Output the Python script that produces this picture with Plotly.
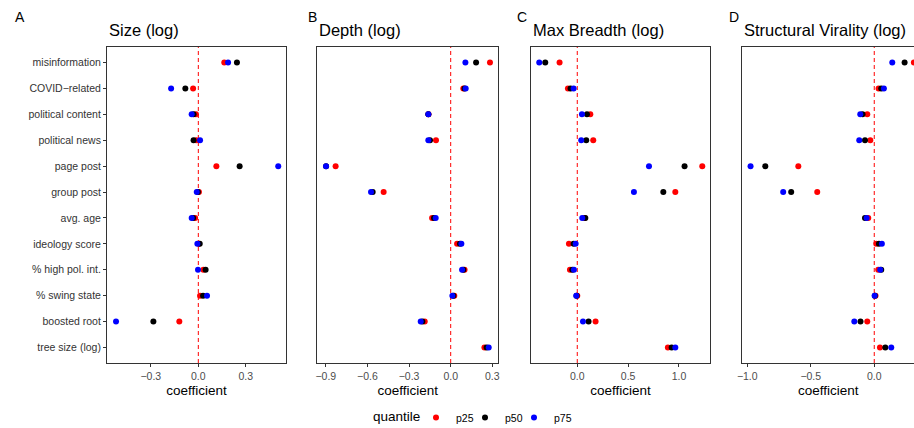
import plotly.graph_objects as go

categories = ["misinformation", "COVID\u2212related", "political content", "political news",
              "page post", "group post", "avg. age", "ideology score",
              "% high pol. int.", "% swing state", "boosted root", "tree size (log)"]

# Size (log)
size_p25 = [0.164, -0.033, -0.015, -0.013, 0.114, 0.004, -0.020, 0.003, 0.032, 0.011, -0.120, None]
size_p50 = [0.244, -0.082, -0.030, -0.030, 0.261, -0.003, -0.033, 0.009, 0.046, 0.030, -0.284, None]
size_p75 = [0.188, -0.172, -0.042, 0.011, 0.505, -0.010, -0.042, -0.006, -0.002, 0.055, -0.520, None]

# Depth (log)
depth_p25 = [0.283, 0.091, -0.160, -0.106, -0.829, -0.483, -0.134, 0.046, 0.100, 0.026, -0.187, 0.243]
depth_p50 = [0.183, 0.100, -0.161, -0.149, -0.898, -0.562, -0.120, 0.067, 0.091, 0.019, -0.204, 0.259]
depth_p75 = [0.106, 0.108, -0.161, -0.161, -0.898, -0.574, -0.108, 0.077, 0.082, 0.012, -0.216, 0.274]

# Max Breadth (log)
breadth_p25 = [-0.174, -0.092, 0.128, 0.157, 1.229, 0.964, 0.072, -0.082, -0.072, 0.000, 0.180, 0.891]
breadth_p50 = [-0.315, -0.066, 0.095, 0.088, 1.055, 0.846, 0.079, -0.036, -0.049, -0.007, 0.111, 0.928]
breadth_p75 = [-0.374, -0.036, 0.046, 0.039, 0.705, 0.557, 0.049, -0.016, -0.033, -0.010, 0.056, 0.964]

# Structural Virality (log)
vir_p25 = [0.312, 0.034, -0.055, -0.031, -0.598, -0.449, -0.047, 0.016, 0.031, 0.010, -0.055, 0.045]
vir_p50 = [0.239, 0.055, -0.092, -0.073, -0.858, -0.654, -0.073, 0.037, 0.055, 0.005, -0.108, 0.087]
vir_p75 = [0.142, 0.076, -0.110, -0.118, -0.974, -0.717, -0.060, 0.060, 0.047, 0.003, -0.157, 0.134]

panel_titles = ["Size (log)", "Depth (log)", "Max Breadth (log)", "Structural Virality (log)"]
panel_letters = ["A", "B", "C", "D"]
quantiles = ["p25", "p50", "p75"]
q_colors = ["#FF0000", "#000000", "#0000FF"]

panels = [
    (size_p25, size_p50, size_p75),
    (depth_p25, depth_p50, depth_p75),
    (breadth_p25, breadth_p50, breadth_p75),
    (vir_p25, vir_p50, vir_p75),
]

tick_vals = [[-0.3, 0.0, 0.3], [-0.9, -0.6, -0.3, 0.0, 0.3], [0.0, 0.5, 1.0], [-1.0, -0.5, 0.0]]
x_ranges = [[-0.577, 0.554], [-0.961, 0.343], [-0.458, 1.308], [-1.039, 0.313]]

W, H = 914, 428
px_domains = [(107, 286), (317.3, 498.3), (530.7, 710.3), (742.3, 914)]
y_top, y_bot = 47, 363
letter_x = [13, 306, 515, 727]

fig = go.Figure()

def fmt(v):
    s = f"{abs(v):.1f}"
    return ("\u2212" + s) if v < 0 else s

for i, vals in enumerate(panels):
    xa = "x" if i == 0 else f"x{i+1}"
    ya = "y" if i == 0 else f"y{i+1}"
    for q, (series, col) in enumerate(zip(vals, q_colors)):
        fig.add_trace(go.Scatter(
            x=series, y=categories, mode="markers",
            marker=dict(color=col, size=6, line=dict(width=0)),
            name=quantiles[q], legendgroup=quantiles[q], showlegend=(i == 0),
            xaxis=xa, yaxis=ya, hoverinfo="skip"))
    x0, x1 = px_domains[i]
    axis_common = dict(showgrid=False, zeroline=False, showline=True, linecolor="#333333",
                       linewidth=1, automargin=False)
    fig.layout[f"xaxis{'' if i == 0 else i+1}"] = go.layout.XAxis(
        domain=[x0 / W, x1 / W], anchor=ya, range=x_ranges[i], mirror=True,
        tickvals=tick_vals[i], ticktext=[fmt(v) for v in tick_vals[i]],
        ticks="outside", ticklen=3, tickcolor="#333333",
        tickfont=dict(family="Liberation Sans, Arial", size=10.5, color="#4D4D4D"),
        title=dict(text="coefficient", standoff=4,
                   font=dict(family="Liberation Sans, Arial", size=13.5, color="#000000")),
        **axis_common)
    fig.layout[f"yaxis{'' if i == 0 else i+1}"] = go.layout.YAxis(
        domain=[1 - y_bot / H, 1 - y_top / H], anchor=xa,
        type="category", categoryorder="array", categoryarray=categories,
        range=[len(categories) - 0.4, -0.6],
        mirror=(i < 3), showticklabels=(i == 0),
        ticks="outside" if i == 0 else "", ticklen=3, tickcolor="#333333",
        tickfont=dict(family="Liberation Sans, Arial", size=10.5, color="#333333"),
        **axis_common)
    fig.add_shape(type="line", x0=0, x1=0, y0=0, y1=1, xref=xa, yref=f"{ya} domain",
                  line=dict(color="#FF0000", width=1, dash="4px,3px"), layer="below")
    fig.add_annotation(text=panel_titles[i], xref="paper", yref="paper",
                       x=x0 / W, y=1 - 30 / H, xanchor="left", yanchor="middle",
                       showarrow=False,
                       font=dict(family="Liberation Sans, Arial", size=16.5, color="#000000"))
    fig.add_annotation(text=panel_letters[i], xref="paper", yref="paper",
                       x=letter_x[i] / W, y=1 - 17 / H, xanchor="left", yanchor="middle",
                       showarrow=False,
                       font=dict(family="Liberation Sans, Arial", size=14, color="#000000"))

# empty spacer legend entry so the last legend label is not clipped
fig.add_trace(go.Scatter(x=[None], y=[None], mode="markers", name=" ",
                         marker=dict(color="rgba(0,0,0,0)", size=1, line=dict(width=0)),
                         showlegend=True, hoverinfo="skip"))

# legend title as text
fig.add_annotation(text="quantile", xref="paper", yref="paper",
                   x=371 / W, y=1 - 416 / H, xanchor="left", yanchor="middle", showarrow=False,
                   font=dict(family="Liberation Sans, Arial", size=13.5, color="#000000"))

fig.update_layout(
    width=W, height=H, margin=dict(l=0, r=0, t=0, b=0, autoexpand=False),
    paper_bgcolor="white", plot_bgcolor="white",
    showlegend=True,
    legend=dict(orientation="h", x=416 / W, xanchor="left", y=1 - 403 / H, yanchor="top",
                font=dict(family="Liberation Sans, Arial", size=10.5, color="#000000"),
                itemwidth=30, entrywidth=4, entrywidthmode="pixels",
                tracegroupgap=0, bgcolor="rgba(0,0,0,0)"),
    font=dict(family="Liberation Sans, Arial"),
)

fig.write_html("out.html", config={"displayModeBar": False},
               post_script="document.body.style.margin='0';document.body.style.overflow='hidden';")
